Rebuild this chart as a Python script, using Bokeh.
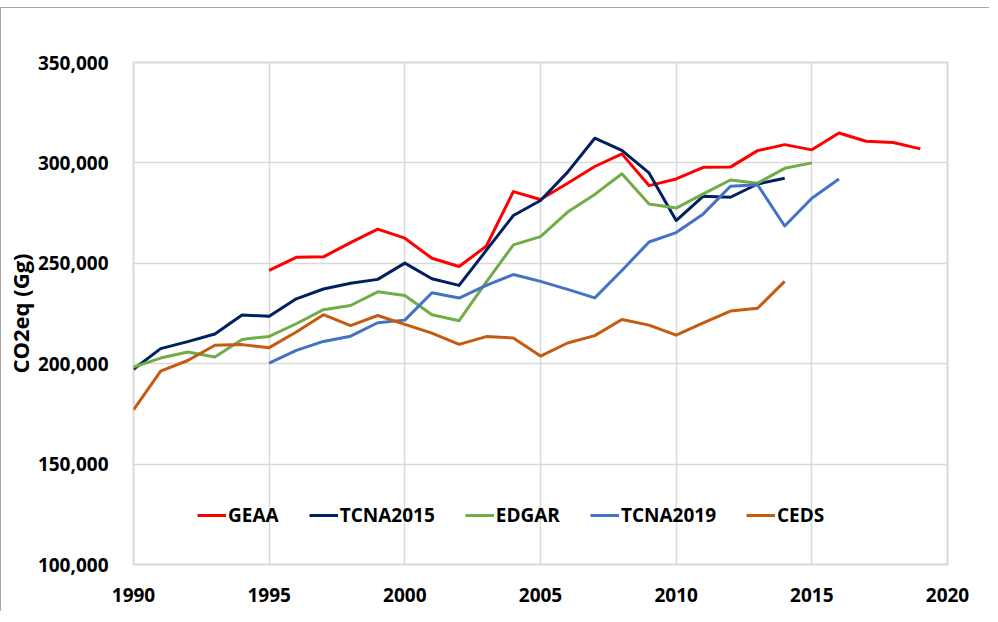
import math
from bokeh.plotting import figure
from bokeh.models import FixedTicker, NumeralTickFormatter, Range1d
from bokeh.embed import file_html
from bokeh.resources import INLINE

# ---- data ----
years_geaa = [1995, 1996, 1997, 1998, 1999, 2000, 2001, 2002, 2003, 2004, 2005, 2006,
              2007, 2008, 2009, 2010, 2011, 2012, 2013, 2014, 2015, 2016, 2017, 2018, 2019]
geaa = [246500, 253000, 253200, 260300, 267000, 262500, 252500, 248400, 258500, 285700,
        281800, 289900, 298200, 304500, 288700, 292000, 297800, 297900, 306100, 309100,
        306500, 314900, 310800, 310200, 307000]

years_tcna2015 = [1990, 1991, 1992, 1993, 1994, 1995, 1996, 1997, 1998, 1999, 2000, 2001,
                  2002, 2003, 2004, 2005, 2006, 2007, 2008, 2009, 2010, 2011, 2012, 2013, 2014]
tcna2015 = [197200, 207500, 211000, 214800, 224300, 223600, 232300, 237200, 240100, 242000,
            250100, 242300, 239000, 256400, 273800, 281300, 295400, 312300, 306200, 295000,
            271300, 283400, 282900, 289500, 292400]

years_edgar = [1990, 1991, 1992, 1993, 1994, 1995, 1996, 1997, 1998, 1999, 2000, 2001, 2002,
               2003, 2004, 2005, 2006, 2007, 2008, 2009, 2010, 2011, 2012, 2013, 2014, 2015]
edgar = [198300, 202800, 205800, 203300, 212100, 213600, 219900, 226900, 229000, 235800,
         234000, 224400, 221400, 240600, 259200, 263300, 275500, 284300, 294600, 279500,
         277500, 284600, 291500, 289900, 297300, 300000]

years_tcna2019 = [1995, 1996, 1997, 1998, 1999, 2000, 2001, 2002, 2003, 2004, 2005, 2006,
                  2007, 2008, 2009, 2010, 2011, 2012, 2013, 2014, 2015, 2016]
tcna2019 = [200300, 206600, 211100, 213700, 220400, 221700, 235300, 232700, 239000, 244400,
            241000, 237000, 232800, 246400, 260600, 265300, 274600, 288400, 289100, 268600,
            282400, 292000]

years_ceds = [1990, 1991, 1992, 1993, 1994, 1995, 1996, 1997, 1998, 1999, 2000, 2001, 2002,
              2003, 2004, 2005, 2006, 2007, 2008, 2009, 2010, 2011, 2012, 2013, 2014]
ceds = [177000, 196300, 201600, 209200, 209500, 208000, 215800, 224400, 219000, 224000,
        219600, 215200, 209600, 213500, 212800, 203800, 210300, 214000, 222000, 219200,
        214200, 220300, 226200, 227600, 241000]

x_ticks = [1990, 1995, 2000, 2005, 2010, 2015, 2020]
y_ticks = [100000, 150000, 200000, 250000, 300000, 350000]
y_title = "CO2eq (Gg)"

series = [
    ("GEAA", years_geaa, geaa, "#ff0000"),
    ("TCNA2015", years_tcna2015, tcna2015, "#002060"),
    ("EDGAR", years_edgar, edgar, "#70ad47"),
    ("TCNA2019", years_tcna2019, tcna2019, "#4472c4"),
    ("CEDS", years_ceds, ceds, "#c55a11"),
]

FONT = "Open Sans"
GRID = "#d9d9d9"

p = figure(frame_width=814, frame_height=502, output_backend="svg", toolbar_location=None,
           x_range=Range1d(1990, 2020), y_range=Range1d(100000, 350000),
           min_border_left=125, min_border_right=42, min_border_top=54, min_border_bottom=47)
p.styles = {"border-left": "1px solid #a6a6a6", "border-top": "1px solid #a6a6a6",
            "margin-top": "7px"}

for name, xs, ys, col in series:
    p.line(xs, ys, line_color=col, line_width=3, line_join="round", legend_label=name)

p.outline_line_color = GRID
p.outline_line_width = 2

p.xaxis.ticker = FixedTicker(ticks=x_ticks)
p.yaxis.ticker = FixedTicker(ticks=y_ticks)
p.yaxis.formatter = NumeralTickFormatter(format="0,0")
for ax in (p.xaxis[0], p.yaxis[0]):
    ax.axis_line_color = None
    ax.major_tick_line_color = None
    ax.minor_tick_line_color = None
    ax.major_label_text_font = FONT
    ax.major_label_text_font_style = "bold"
    ax.major_label_text_font_size = "19px"
    ax.major_label_text_color = "#000000"
p.xaxis.major_label_standoff = 17
p.yaxis.major_label_standoff = 19
yax = p.yaxis[0]
yax.axis_label = y_title
yax.axis_label_text_font = FONT
yax.axis_label_text_font_style = "bold"
yax.axis_label_text_font_size = "22px"
yax.axis_label_text_color = "#000000"
yax.axis_label_standoff = 0

p.xgrid.grid_line_color = GRID
p.ygrid.grid_line_color = GRID
p.xgrid.grid_line_width = 1.5
p.ygrid.grid_line_width = 1.5

lg = p.legend[0]
lg.orientation = "horizontal"
lg.location = (64, 36)
lg.border_line_alpha = 0
lg.background_fill_alpha = 0
lg.padding = 0
lg.margin = 0
lg.spacing = 30
lg.glyph_width = 29
lg.glyph_height = 20
lg.label_standoff = 2
lg.label_height = 20
lg.label_text_font = FONT
lg.label_text_font_style = "bold"
lg.label_text_font_size = "19px"
lg.label_text_color = "#000000"

open("out.html", "w").write(file_html(p, INLINE))
